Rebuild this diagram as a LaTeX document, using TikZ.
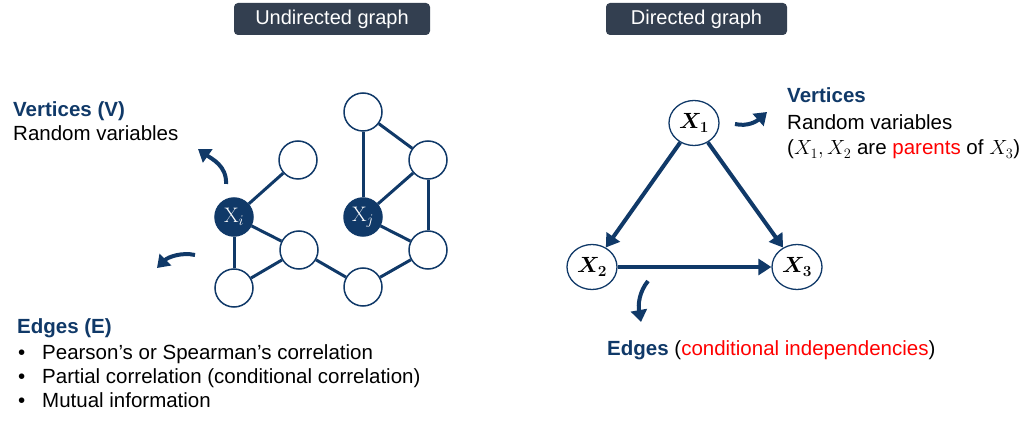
\RequirePackage{fix-cm}
\documentclass[tikz,border=0pt]{standalone}
\usepackage{amsmath}
\usepackage{bm}
\usepackage[no-math]{fontspec}
\setmainfont{Liberation Sans}
\usetikzlibrary{arrows.meta, shapes.geometric}

\definecolor{navy}{RGB}{16,57,104}
\definecolor{slate}{RGB}{51,63,80}
\definecolor{hired}{RGB}{255,0,0}

\tikzset{
    vert/.style={draw=navy, circle, line width=1.5pt, minimum size=38pt, inner sep=0pt, fill=white,
        font=\fontsize{21}{21}\selectfont},
    pick/.style={vert, fill=navy, text=white},
    rv/.style={draw=navy, ellipse, line width=1.3pt, minimum width=50pt, minimum height=45pt,
        inner sep=0pt, fill=white, font=\fontsize{22}{22}\selectfont},
    link/.style={draw=navy, line width=3pt},
    dlink/.style={draw=navy, line width=4pt, -{Triangle[width=16pt, length=13pt]}},
    swoosh/.style={draw=navy, line width=4pt, -{Triangle[width=16pt, length=12pt]}},
    titlebox/.style={fill=slate, text=white, rounded corners=4pt,
        minimum height=32pt, inner sep=0pt, font=\fontsize{20}{20}\selectfont},
    body/.style={anchor=base west, inner sep=0pt, font=\fontsize{20.5}{24}\selectfont},
    head/.style={body, text=navy, font=\fontsize{20.5}{24}\selectfont\bfseries},
}

\begin{document}
\begin{tikzpicture}[x=1pt, y=-1pt]
    \useasboundingbox (0, 0) rectangle (1024, 427);

    % undirected graph
    \begin{scope}
        \node[titlebox, minimum width=196pt] (utitle) at (332, 19) {Undirected graph};

        \node[vert] (a) at (298, 160) {};
        \node[pick] (xi) at (234, 217) {$\mathrm{X}_i$};
        \node[vert] (b) at (299, 250) {};
        \node[vert] (c) at (234, 288) {};
        \node[vert] (d) at (363, 287) {};
        \node[pick] (xj) at (363, 217) {$\mathrm{X}_j$};
        \node[vert] (e) at (363, 112) {};
        \node[vert] (f) at (428, 160) {};
        \node[vert] (g) at (428, 250) {};

        \draw[link] (xi) -- (a);
        \draw[link] (xi) -- (b);
        \draw[link] (xi) -- (c);
        \draw[link] (c) -- (b);
        \draw[link] (b) -- (d);
        \draw[link] (d) -- (g);
        \draw[link] (xj) -- (e);
        \draw[link] (xj) -- (f);
        \draw[link] (xj) -- (g);
        \draw[link] (e) -- (f);
        \draw[link] (f) -- (g);

        \coordinate (vt) at (226, 184);
        \coordinate (vh) at (198, 149);
        \coordinate (et) at (195, 255);
        \coordinate (eh) at (157, 268);
        \draw[swoosh] (vt) .. controls (227, 166) and (212, 159) .. (vh);
        \draw[swoosh] (et) .. controls (182, 252) and (168, 257) .. (eh);

        \node[head] (uvert) at (13, 117) {Vertices (V)};
        \node[body] (uvar) at (13, 141) {Random variables};

        \node[head] (uedge) at (17, 333) {Edges (E)};
        \node[body] (b1) at (18, 359) {•};
        \node[body] (i1) at (42, 359) {Pearson’s or Spearman’s correlation};
        \node[body] (b2) at (18, 383) {•};
        \node[body] (i2) at (42, 383) {Partial correlation (conditional correlation)};
        \node[body] (b3) at (18, 407) {•};
        \node[body] (i3) at (42, 407) {Mutual information};
    \end{scope}

    % directed graph
    \begin{scope}
        \node[titlebox, minimum width=181pt] (dtitle) at (696.5, 19) {Directed graph};

        \node[rv] (x1) at (694, 123) {$\bm{X}_{\bm{1}}$};
        \node[rv] (x2) at (592, 267) {$\bm{X}_{\bm{2}}$};
        \node[rv] (x3) at (797, 267) {$\bm{X}_{\bm{3}}$};

        \draw[dlink] (x1) -- (x2);
        \draw[dlink] (x1) -- (x3);
        \draw[dlink] (x2) -- (x3);

        \coordinate (pt) at (735, 124);
        \coordinate (ph) at (767, 112);
        \coordinate (qt) at (648, 281);
        \coordinate (qh) at (641, 322);
        \draw[swoosh] (pt) .. controls (748, 127) and (757, 121) .. (ph);
        \draw[swoosh] (qt) .. controls (639, 292) and (638, 305) .. (qh);

        \node[head] (dvert) at (787, 103) {Vertices};
        \node[body] (dvar) at (787, 130) {Random variables};
        \node[body] (dpar) at (787, 155) {($X_1,X_2$ are \textcolor{hired}{parents} of $X_3$)};

        \node[head] (dedge) at (607, 355) {Edges \textcolor{black}{\mdseries(\textcolor{hired}{conditional independencies})}};
    \end{scope}
\end{tikzpicture}
\end{document}
